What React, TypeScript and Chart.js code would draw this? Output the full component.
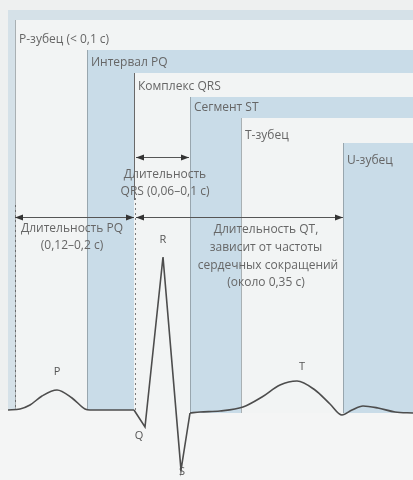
import React, { useEffect, useRef } from "react";
import { Chart, registerables } from "chart.js";

Chart.register(...registerables);

// ECG trace (time units, voltage units; baseline = 0), split by wave shape
const pTime = [8, 20, 30, 42, 57, 72, 85, 90, 134];
const pVoltage = [0, 1, 5, 14, 20, 12, 1, 0, 0];
const qrsTime = [134, 145, 163, 181, 190];
const qrsVoltage = [0, -17, 153, -60, -3];
const tuTime = [190, 200, 220, 243, 262, 280, 297, 315, 330, 342, 352, 363, 378, 395, 413];
const tuVoltage = [-3, -2, -1, 3, 13, 25, 29, 20, 6, -5, 0, 4, 2, -2, -3];

// staircase panels
const panelLabels = ["P-зубец (< 0,1 с)", "Интервал PQ", "Комплекс QRS", "Сегмент ST", "T-зубец", "U-зубец"];
const panelStart = [15, 87, 134, 190, 241, 343];
const panelTop = [390, 360, 337, 313, 292, 267];
const panelBottom = [0, 0, 0, -3, -3, -3];
const frameStart = 8;
const frameTop = 400;

// wave letters
const waveLabels = ["P", "Q", "R", "S", "T"];
const waveX = [57, 139, 163, 182, 302];
const waveY = [38, -26, 170, -62, 43];

// duration arrows
const arrowFrom = [136, 15, 136];
const arrowTo = [189, 134, 343];
const arrowLevel = [253, 193, 193];

// duration captions
const captionLines = [
  "Длительность",
  "QRS (0,06–0,1 с)",
  "Длительность PQ",
  "(0,12–0,2 с)",
  "Длительность QT,",
  "зависит от частоты",
  "сердечных сокращений",
  "(около 0,35 с)",
];
const captionX = [165, 165, 72, 72, 266, 266, 268, 266];
const captionY = [235, 218, 181, 164, 180, 162, 144, 127];

// dotted guides
const guideX = [15, 135];
const guideTop = [205, 212];

const BLUE = "#c9dce8";
const WHITE = "#f2f4f4";

const diagramPlugin = {
  id: "diagram",
  beforeDatasetsDraw(chart: any) {
    const { ctx, scales } = chart;
    const xs = scales.x;
    const ys = scales.y;
    const px = (v: number) => xs.getPixelForValue(v);
    const py = (v: number) => ys.getPixelForValue(v);
    const right = px(413);
    ctx.save();
    // background
    ctx.fillStyle = "#eef0f0";
    ctx.fillRect(0, 0, chart.width, chart.height);
    ctx.fillStyle = "#f4f5f5";
    ctx.fillRect(0, py(0), chart.width, chart.height - py(0));
    // frame
    ctx.fillStyle = "#d5e1e8";
    ctx.fillRect(px(frameStart), py(frameTop), right - px(frameStart), py(0) - py(frameTop));
    // panels
    panelStart.forEach((s, i) => {
      const x0 = px(s);
      const y0 = py(panelTop[i]);
      const y1 = py(panelBottom[i]);
      ctx.fillStyle = i % 2 === 0 ? WHITE : BLUE;
      ctx.fillRect(x0, y0, right - x0, y1 - y0);
      ctx.strokeStyle = i === 2 ? "rgba(70,70,70,0.8)" : "rgba(120,130,135,0.6)";
      ctx.lineWidth = 1;
      ctx.beginPath();
      ctx.moveTo(Math.round(x0) + 0.5, y0);
      ctx.lineTo(Math.round(x0) + 0.5, i === 2 ? py(210) : y1);
      ctx.stroke();
    });
    // dotted guides
    ctx.strokeStyle = "rgba(90,90,90,0.8)";
    ctx.setLineDash([2, 3]);
    guideX.forEach((g, i) => {
      ctx.beginPath();
      ctx.moveTo(Math.round(px(g)) + 0.5, py(guideTop[i]));
      ctx.lineTo(Math.round(px(g)) + 0.5, py(0));
      ctx.stroke();
    });
    ctx.setLineDash([]);
    // arrows
    arrowFrom.forEach((a, i) => {
      const x0 = px(a);
      const x1 = px(arrowTo[i]);
      const y = Math.round(py(arrowLevel[i])) + 0.5;
      ctx.strokeStyle = "#555";
      ctx.lineWidth = 1;
      ctx.beginPath();
      ctx.moveTo(x0, y);
      ctx.lineTo(x1, y);
      ctx.stroke();
      ctx.fillStyle = "#333";
      ctx.beginPath();
      ctx.moveTo(x0, y);
      ctx.lineTo(x0 + 8, y - 3);
      ctx.lineTo(x0 + 8, y + 3);
      ctx.closePath();
      ctx.fill();
      ctx.beginPath();
      ctx.moveTo(x1, y);
      ctx.lineTo(x1 - 8, y - 3);
      ctx.lineTo(x1 - 8, y + 3);
      ctx.closePath();
      ctx.fill();
    });
    // texts
    ctx.font = "12px 'Open Sans', 'DejaVu Sans', sans-serif";
    ctx.fillStyle = "#666";
    ctx.textBaseline = "middle";
    ctx.textAlign = "left";
    panelLabels.forEach((t, i) => {
      const labelOffset = [20, 13, 14, 11, 18, 18][i];
      ctx.fillText(t, px(panelStart[i]) + 4, py(panelTop[i]) + labelOffset);
    });
    ctx.textAlign = "center";
    captionLines.forEach((t, i) => {
      ctx.fillText(t, px(captionX[i]), py(captionY[i]));
    });
    ctx.fillStyle = "#555";
    ctx.font = "11px 'Open Sans', 'DejaVu Sans', sans-serif";
    waveLabels.forEach((t, i) => {
      ctx.fillText(t, px(waveX[i]), py(waveY[i]));
    });
    ctx.restore();
  },
};

const traceStyle = {
  borderColor: "#4d4d4d",
  borderWidth: 1.6,
  pointRadius: 0,
  fill: false,
};

export default function App() {
  const ref = useRef<HTMLCanvasElement | null>(null);
  useEffect(() => {
    document.body.style.margin = "0";
    const canvas = ref.current;
    if (!canvas) return;
    const chart = new Chart(canvas, {
      type: "line",
      data: {
        datasets: [
          {
            ...traceStyle,
            data: pTime.map((t, i) => ({ x: t, y: pVoltage[i] })),
            cubicInterpolationMode: "monotone",
          },
          {
            ...traceStyle,
            data: qrsTime.map((t, i) => ({ x: t, y: qrsVoltage[i] })),
            tension: 0,
          },
          {
            ...traceStyle,
            data: tuTime.map((t, i) => ({ x: t, y: tuVoltage[i] })),
            cubicInterpolationMode: "monotone",
          },
        ],
      },
      options: {
        animation: false,
        responsive: true,
        maintainAspectRatio: false,
        layout: { padding: 0 },
        plugins: { legend: { display: false }, tooltip: { enabled: false } },
        scales: {
          x: { type: "linear", min: 0, max: 413, display: false },
          y: { type: "linear", min: -70, max: 410, display: false },
        },
      },
      plugins: [diagramPlugin],
    });
    return () => chart.destroy();
  }, []);
  return (
    <div style={{ width: 413, height: 480, position: "relative" }}>
      <canvas ref={ref} />
    </div>
  );
}
